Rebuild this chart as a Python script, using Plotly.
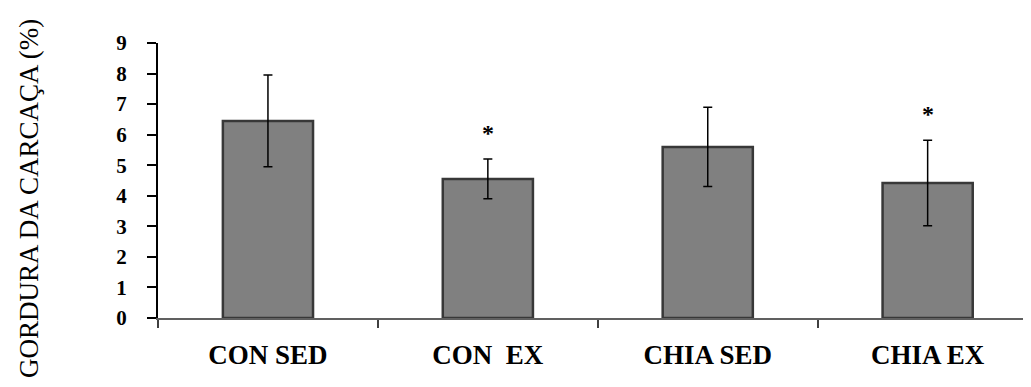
import plotly.graph_objects as go

categories = ["CON SED", "CON\u00a0\u00a0EX", "CHIA SED", "CHIA EX"]
means = [6.45, 4.55, 5.6, 4.42]
errors = [1.5, 0.65, 1.3, 1.4]
significance = ["", "*", "", "*"]
y_ticks = [0, 1, 2, 3, 4, 5, 6, 7, 8, 9]
y_title = "GORDURA DA CARCAÇA (%)"

# page body has an 8px default margin; figure size compensates
fig = go.Figure()
fig.add_trace(go.Bar(
    x=categories, y=means,
    width=0.41,
    marker=dict(color="#808080", line=dict(color="#383838", width=2.5)),
    error_y=dict(type="data", array=errors, visible=True, color="black",
                 thickness=1.5, width=4.5),
))

for c, m, e, s in zip(categories, means, errors, significance):
    if s:
        fig.add_annotation(x=c, y=m + e + 0.9, text=f"<b>{s}</b>", showarrow=False,
                           yanchor="middle", yshift=-1,
                           font=dict(family="Liberation Serif", size=24, color="black"))

fig.add_annotation(xref="paper", yref="paper", x=(29 - 158) / 873, y=(318 - 199) / 275,
                   text=y_title, textangle=-90, showarrow=False,
                   xanchor="center", yanchor="middle",
                   font=dict(family="Liberation Serif", size=27, color="black"))

fig.update_layout(
    width=1023, height=379,
    margin=dict(l=150, r=0, t=35, b=69, autoexpand=False),
    plot_bgcolor="white", paper_bgcolor="white",
    showlegend=False,
    font=dict(family="Liberation Serif", color="black"),
)
fig.update_xaxes(
    type="category", range=[-0.5, 3.47], automargin=False,
    tickson="boundaries", ticks="outside", ticklen=8, tickwidth=2, tickcolor="#404040",
    showline=True, linecolor="#606060", linewidth=2,
    tickfont=dict(family="Liberation Serif", size=27, color="black", weight="bold"),
    ticklabelstandoff=12, showgrid=False, zeroline=False,
)
fig.update_yaxes(
    range=[0, 9], tickvals=y_ticks, ticktext=[str(v) for v in y_ticks], automargin=False,
    ticks="outside", ticklen=9, tickwidth=2, tickcolor="black",
    showline=True, linecolor="black", linewidth=2,
    tickfont=dict(family="Liberation Serif", size=21, color="black", weight="bold"),
    ticklabelstandoff=16, showgrid=False, zeroline=False,
)

fig.write_html("out.html")
